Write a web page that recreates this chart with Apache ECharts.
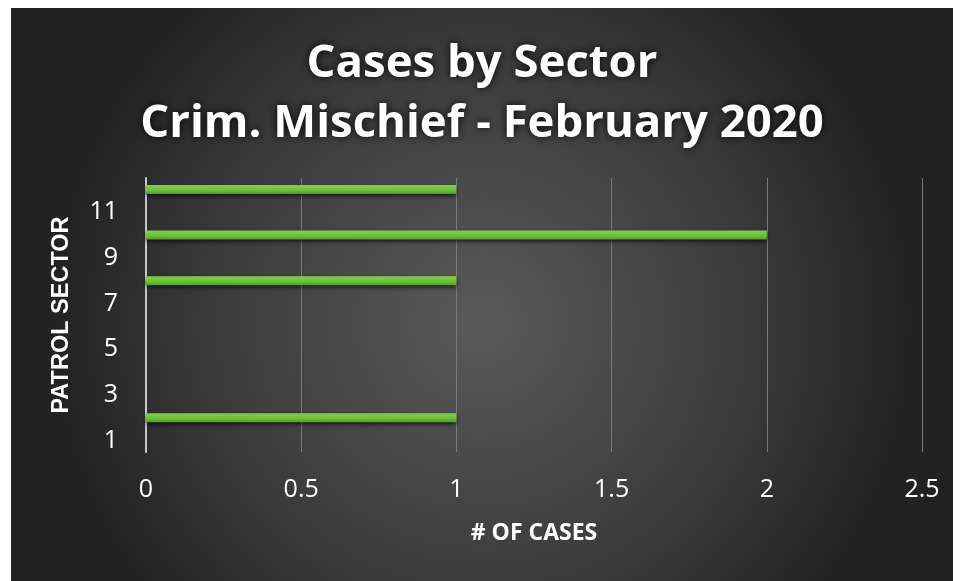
<!DOCTYPE html>
<html>
<head>
<meta charset="utf-8">
<script src="https://cdn.jsdelivr.net/npm/echarts@6/dist/echarts.min.js"></script>
<style>
html,body{margin:0;padding:0;background:#ffffff;width:953px;height:581px;overflow:hidden;}
#c{position:absolute;left:11px;top:8px;width:942px;height:573px;}
</style>
</head>
<body>
<div id="c"></div>
<script>
var categories = ['1','2','3','4','5','6','7','8','9','10','11','12'];
var cases = [0,1,0,0,0,0,0,1,0,2,0,1];
var titleLines = ['Cases by Sector', 'Crim. Mischief - February 2020'];

var chart = echarts.init(document.getElementById('c'));
chart.setOption({
  backgroundColor: {
    type: 'radial', x: 0.5, y: 0.55, r: 0.75,
    colorStops: [
      {offset: 0, color: '#5a5a5a'},
      {offset: 0.6, color: '#3c3c3c'},
      {offset: 1, color: '#222222'}
    ]
  },
  title: {
    text: titleLines.join('\n'),
    left: 'center',
    top: 21,
    textStyle: {
      color: '#ffffff',
      fontFamily: 'Open Sans',
      fontWeight: 'bold',
      fontSize: 45.5,
      lineHeight: 60,
      textShadowColor: 'rgba(0,0,0,0.9)',
      textShadowBlur: 8
    }
  },
  grid: {left: 135, right: 31, top: 170, bottom: 129, containLabel: false},
  xAxis: {
    type: 'value',
    min: 0, max: 2.5, interval: 0.5,
    name: '# OF CASES',
    nameLocation: 'middle',
    nameGap: 70,
    nameTextStyle: {color: '#ffffff', fontFamily: 'Open Sans', fontWeight: 'bold', fontSize: 23},
    axisLine: {show: false},
    axisTick: {show: false},
    axisLabel: {color: '#ffffff', fontFamily: 'Open Sans', fontSize: 25, margin: 25},
    splitLine: {show: true, lineStyle: {color: '#7a7a7a', width: 1}}
  },
  yAxis: {
    type: 'category',
    data: categories,
    name: 'PATROL SECTOR',
    nameLocation: 'middle',
    nameGap: 72,
    nameRotate: 90,
    nameTextStyle: {color: '#ffffff', fontFamily: 'Liberation Sans', fontWeight: 'bold', fontSize: 23.5},
    axisLine: {show: true, lineStyle: {color: '#c8c8c8', width: 2}},
    axisTick: {show: false},
    axisLabel: {color: '#ffffff', fontFamily: 'Open Sans', fontSize: 25, interval: 1, margin: 28}
  },
  series: [{
    type: 'bar',
    data: cases,
    barWidth: 9,
    itemStyle: {
      color: {
        type: 'linear', x: 0, y: 0, x2: 0, y2: 1,
        colorStops: [
          {offset: 0, color: '#82d04c'},
          {offset: 0.6, color: '#6cbf3a'},
          {offset: 1, color: '#4f9a28'}
        ]
      },
      shadowColor: 'rgba(0,0,0,0.7)',
      shadowBlur: 4,
      shadowOffsetY: 2
    }
  }]
});
</script>
</body>
</html>
